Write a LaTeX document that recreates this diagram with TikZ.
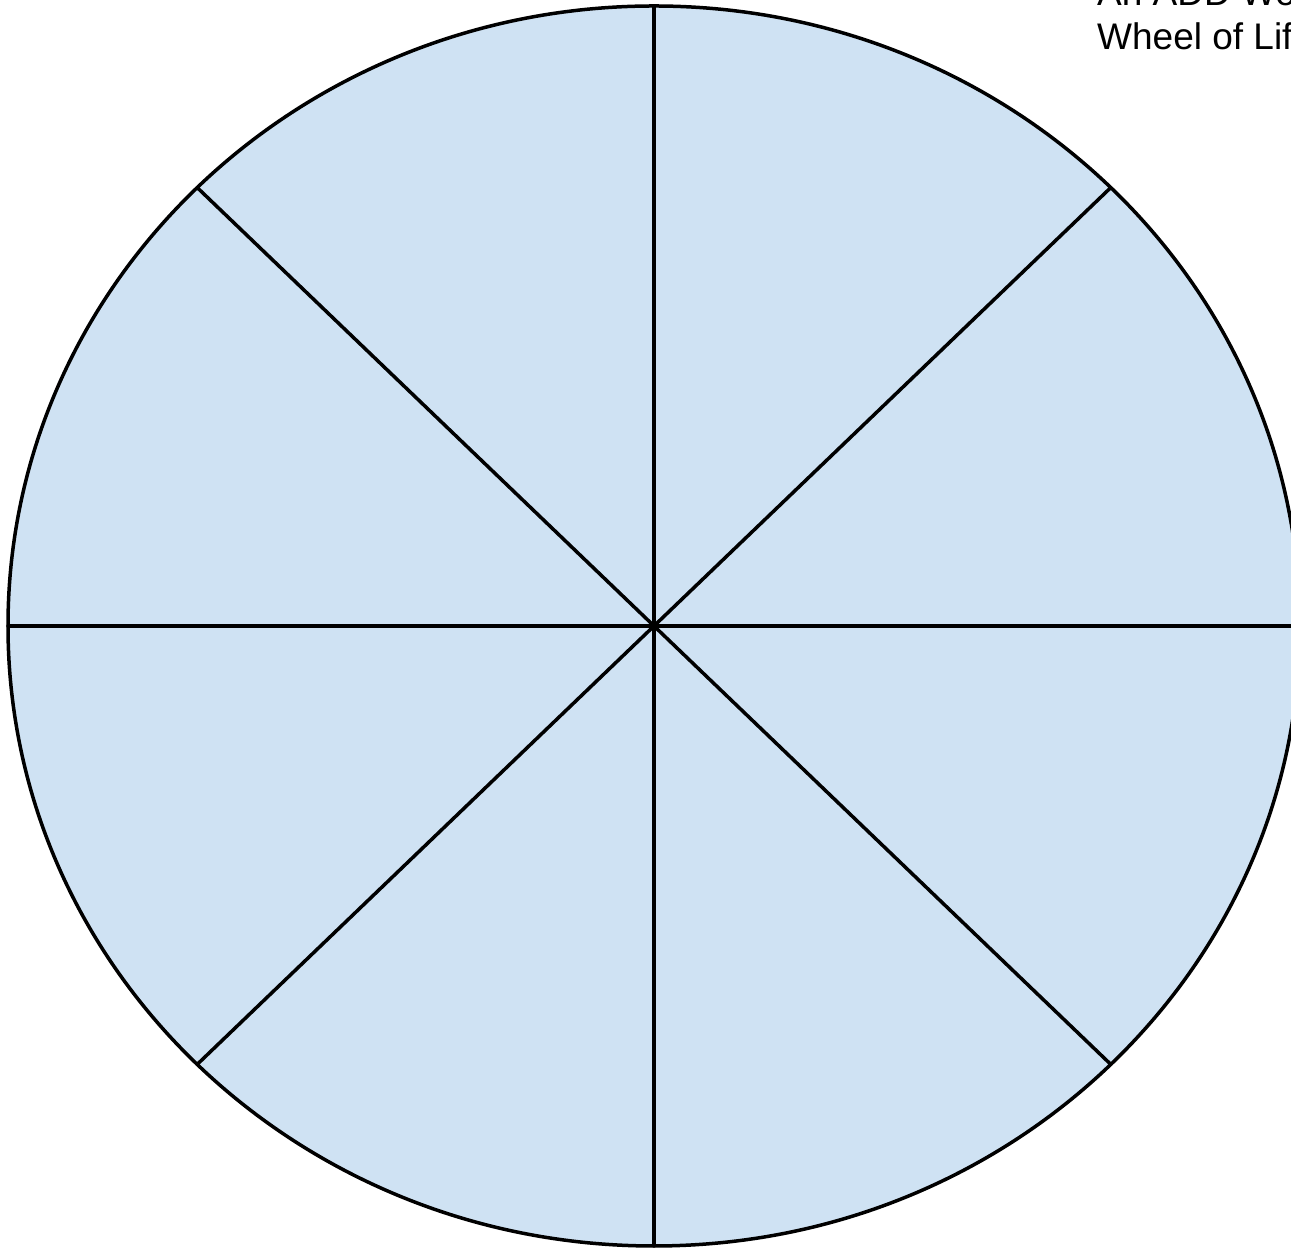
\documentclass[tikz,border=0pt]{standalone}
\usepackage{fontspec}
\setmainfont{Liberation Sans}
\usetikzlibrary{shapes.geometric}
\definecolor{wheelblue}{RGB}{207,226,243}

\begin{document}
\begin{tikzpicture}[
        x=1pt, y=1pt,
        wheel/.style={ellipse, draw=black, line width=3.5pt, fill=wheelblue, minimum width=1292pt, minimum height=1240pt, inner sep=0pt},
        spoke/.style={line width=3.5pt, line cap=round},
        title/.style={anchor=north west, align=left, inner sep=0pt, font=\fontsize{37}{44}\selectfont}
    ]
        \useasboundingbox (0,0) rectangle (1291,1249);
        \clip (0,0) rectangle (1291,1249);

        % Wheel
        \node[wheel] (W) at (654,623) {};

        % Spokes
        \foreach \a in {0,45,...,315}
            \draw[spoke] (W.center) -- ++(\a:646 and 620);

        % Title
        \node[title] (T) at (1097,1269) {An ADD Wo\\Wheel of Lif};
    \end{tikzpicture}
\end{document}
